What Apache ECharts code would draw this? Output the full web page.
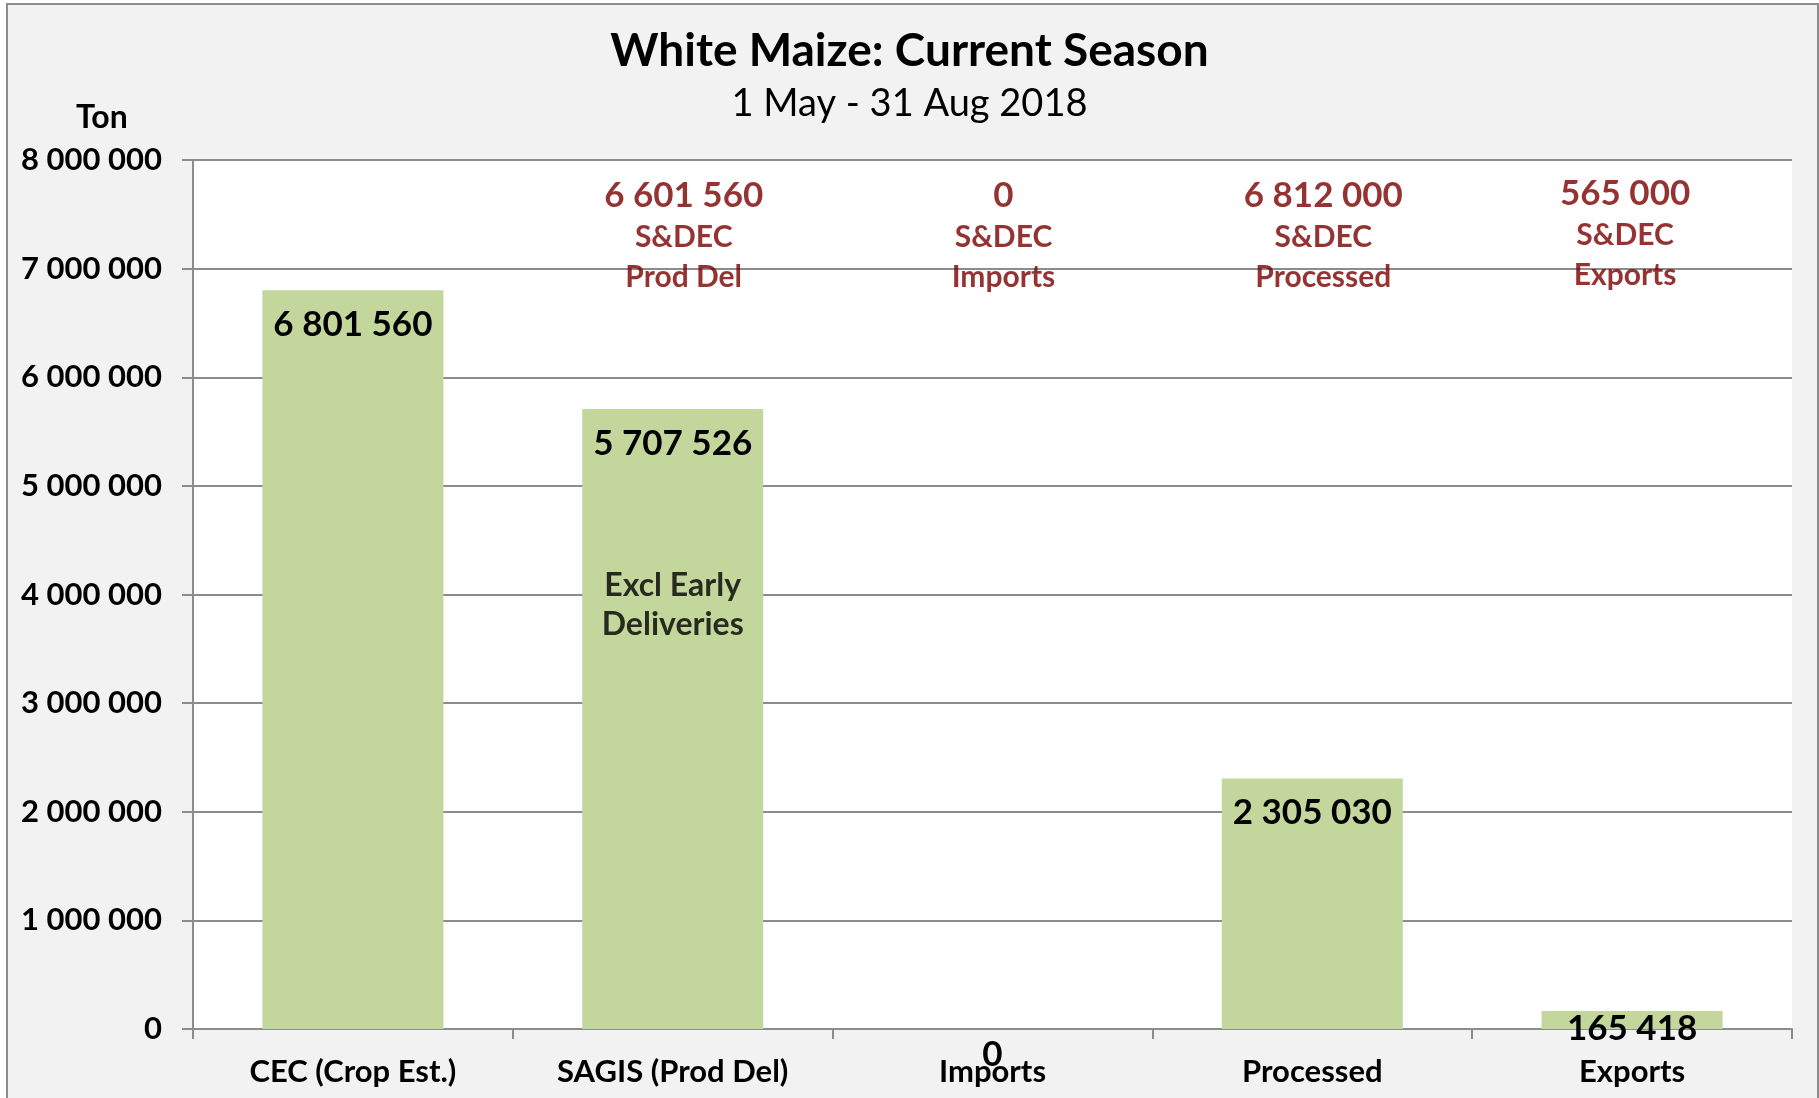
<!DOCTYPE html>
<html>
<head>
<meta charset="utf-8">
<script src="https://cdn.jsdelivr.net/npm/echarts@6/dist/echarts.min.js"></script>
<style>
html,body{margin:0;padding:0;background:#fff;overflow:hidden;}
#frame{position:absolute;left:6px;top:3px;width:1809px;height:1110px;border:2px solid #8c8c8c;background:#f2f2f2;}
#myEchart{position:absolute;left:0;top:0;width:1819px;height:1098px;}
</style>
</head>
<body>
<div id="frame"></div>
<div id="myEchart"></div>
<script>
// categories + bar values
var categories = ['CEC (Crop Est.)', 'SAGIS (Prod Del)', 'Imports', 'Processed', 'Exports'];
var values = [6801560, 5707526, 0, 2305030, 165418];
// S&DEC figures shown over the bars
var sdecCats = ['SAGIS (Prod Del)', 'Imports', 'Processed', 'Exports'];
var sdecValues = [6601560, 0, 6812000, 565000];
var sdecNames = ['Prod Del', 'Imports', 'Processed', 'Exports'];
var yTicks = [0, 1000000, 2000000, 3000000, 4000000, 5000000, 6000000, 7000000, 8000000];

var FONT = 'Lato';
var DARKRED = '#7a0000';

function fmt(v){
    return String(v).replace(/\B(?=(\d{3})+(?!\d))/g, ' ');
}

var myechart = echarts.init(document.getElementById('myEchart'));

var option = {
    backgroundColor: 'transparent',
    animation: false,
    title: [
        {
            text: 'White Maize: Current Season',
            left: 'center', top: 23,
            textStyle: {fontFamily: FONT, fontWeight: 'bold', fontSize: 46, color: '#000'}
        },
        {
            text: '1 May - 31 Aug 2018',
            left: 'center', top: 80,
            textStyle: {fontFamily: FONT, fontWeight: 'normal', fontSize: 38, color: '#000'}
        },
        {
            text: 'Ton',
            left: 71, top: 97,
            textStyle: {fontFamily: FONT, fontWeight: 'bold', fontSize: 32, color: '#000'}
        }
    ],
    grid: {
        left: 193, right: 27, top: 160, bottom: 69,
        show: true, backgroundColor: '#fff', borderWidth: 0
    },
    xAxis: {
        type: 'category',
        data: categories,
        axisLine: {lineStyle: {color: '#8c8c8c', width: 2}},
        axisTick: {show: true, length: 10, lineStyle: {color: '#8c8c8c', width: 2}},
        axisLabel: {
            fontFamily: FONT, fontWeight: 'bold', fontSize: 31, color: '#000', margin: 27
        }
    },
    yAxis: {
        type: 'value',
        min: 0, max: 8000000, interval: 1000000,
        axisLine: {show: true, lineStyle: {color: '#8c8c8c', width: 2}},
        axisTick: {show: true, length: 11, lineStyle: {color: '#8c8c8c', width: 2}},
        splitLine: {lineStyle: {color: '#8c8c8c', width: 2}},
        axisLabel: {
            fontFamily: FONT, fontWeight: 'bold', fontSize: 31, color: '#000', margin: 31,
            formatter: function(v){ return yTicks.indexOf(v) >= 0 ? fmt(v) : ''; }
        }
    },
    series: [
        {
            name: 'White Maize',
            type: 'bar',
            barWidth: 181,
            itemStyle: {color: '#c3d69b'},
            data: values.map(function(v, i){
                var item = {value: v};
                if (v === 0) item.label = {distance: 8};
                else if (v < 500000) item.label = {distance: 0};
                return item;
            }),
            label: {
                show: true,
                position: 'insideTop',
                distance: 17,
                fontFamily: FONT, fontWeight: 'bold', fontSize: 35, color: '#000',
                formatter: function(p){ return fmt(p.value); }
            }
        },
        {
            name: 'S&DEC',
            type: 'scatter',
            symbolSize: 0,
            silent: true,
            data: sdecCats.map(function(c, i){
                var item = {value: [c, 7300000]};
                if (i === 3) item.label = {offset: [-7, -2]};
                return item;
            }),
            label: {
                show: true,
                position: 'inside',
                offset: [11, 0],
                color: DARKRED,
                fontFamily: FONT, fontWeight: 'bold',
                formatter: function(p){
                    return '{a|' + fmt(sdecValues[p.dataIndex]) + '}\n{b|S&DEC}\n{b|' + sdecNames[p.dataIndex] + '}';
                },
                rich: {
                    a: {fontFamily: FONT, fontWeight: 'bold', fontSize: 35, color: DARKRED, lineHeight: 43},
                    b: {fontFamily: FONT, fontWeight: 'bold', fontSize: 30, color: DARKRED, lineHeight: 40}
                }
            }
        },
        {
            name: 'note',
            type: 'scatter',
            symbolSize: 0,
            silent: true,
            data: [['SAGIS (Prod Del)', 3900000]],
            label: {
                show: true,
                position: 'inside',
                formatter: 'Excl Early\nDeliveries',
                fontFamily: FONT, fontWeight: 'bold', fontSize: 32, color: '#000', lineHeight: 39
            }
        }
    ]
};

myechart.setOption(option);
</script>
</body>
</html>
